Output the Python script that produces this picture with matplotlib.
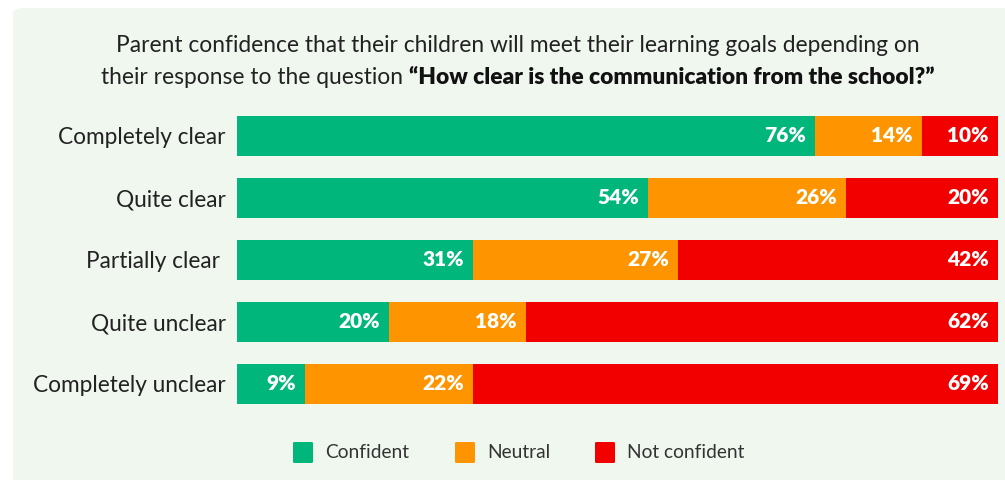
import numpy as np
import matplotlib.pyplot as plt
from matplotlib.patches import FancyBboxPatch

# data
categories = ["Completely clear", "Quite clear", "Partially clear ", "Quite unclear", "Completely unclear"]
confident = [76, 54, 31, 20, 9]
neutral = [14, 26, 27, 18, 22]
not_confident = [10, 20, 42, 62, 69]
series_names = ["Confident", "Neutral", "Not confident"]
colors = ["#00b67a", "#fd9400", "#f20000"]

plt.rcParams['font.family'] = ['Lato', 'DejaVu Sans']
W, H = 1005, 480
fig = plt.figure(figsize=(W / 100, H / 100), dpi=100)
fig.patch.set_facecolor("white")

# panel background
panel = FancyBboxPatch((13 / W, -0.5), 1.2, 0.5 + 1 - 8 / H, boxstyle="round,pad=0,rounding_size=0.012",
                       transform=fig.transFigure, facecolor="#eff7ee", edgecolor="none", zorder=-5)
fig.patches.append(panel)

ax = fig.add_axes([237 / W, 76 / H, 761 / W, 288 / H])
ax.set_facecolor("none")
ax.set_zorder(2)
h = 40 / 62
y = np.arange(len(categories))
left = np.zeros(len(categories))
for vals, c in zip([confident, neutral, not_confident], colors):
    ax.barh(y, vals, left=left, height=h, color=c, edgecolor="none")
    for yi, l, v in zip(y, left, vals):
        ax.text(l + v - 1.2, yi, f"{v}%", ha="right", va="center", color="white",
                fontsize=15, fontweight="heavy")
    left = left + np.array(vals)

ax.set_xlim(0, 100)
ax.set_ylim(len(categories) - 1 + h / 2, -h / 2)
ax.set_xticks([])
ax.set_yticks(y)
ax.set_yticklabels(categories, fontsize=16.3, color="#222222")
ax.tick_params(axis="y", length=0, pad=8)
for s in ax.spines.values():
    s.set_visible(False)

# title
fig.text(518 / W, 1 - 46 / H, "Parent confidence that their children will meet their learning goals depending on",
         ha="center", va="center", fontsize=16.4, color="#222222")
renderer = fig.canvas.get_renderer()
t1 = fig.text(0, 1 - 77 / H, "their response to the question ", ha="left", va="center",
              fontsize=16.4, color="#222222")
t2 = fig.text(0, 1 - 77 / H, "\u201cHow clear is the communication from the school?\u201d", ha="left",
              va="center", fontsize=16.4, color="#111111", fontweight="heavy")
w1 = t1.get_window_extent(renderer).width
w2 = t2.get_window_extent(renderer).width
x0 = 518 - (w1 + w2) / 2
t1.set_x(x0 / W)
t2.set_x((x0 + w1) / W)

# legend
for name, c, sx in zip(series_names, colors, [293, 455, 595]):
    fig.patches.append(FancyBboxPatch((sx / W, 1 - 463 / H), 20 / W, 21 / H,
                                      boxstyle="round,pad=0,rounding_size=0.002",
                                      transform=fig.transFigure, facecolor=c, edgecolor="none"))
    fig.text((sx + 32) / W, 1 - 452 / H, name, ha="left", va="center", fontsize=13.8, color="#333333")

fig.savefig("out.png", dpi=100)
